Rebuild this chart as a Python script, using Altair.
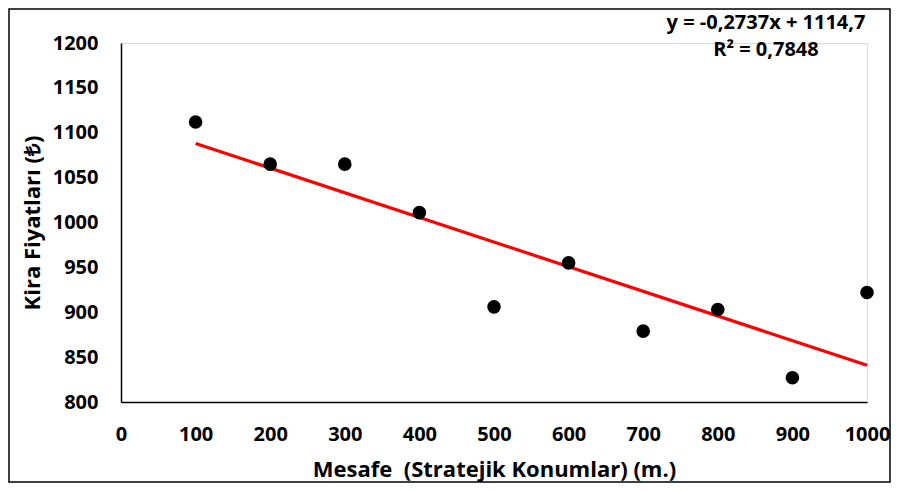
import altair as alt
import pandas as pd

# data
distance = [100, 200, 300, 400, 500, 600, 700, 800, 900, 1000]
rent = [1112, 1065, 1065, 1011, 906, 955, 879, 903, 827, 922]

x_ticks = [0, 100, 200, 300, 400, 500, 600, 700, 800, 900, 1000]
y_ticks = [800, 850, 900, 950, 1000, 1050, 1100, 1150, 1200]

eq_lines = ["y = -0,2737x + 1114,7", "R² = 0,7848"]

x_title = "Mesafe \u00a0(Stratejik Konumlar) (m.)"
y_title = "Kira Fiyatları (₺)"

df = pd.DataFrame({"x": distance, "y": rent})

FONT = "Open Sans"
W, H = 746, 359

xs = alt.Scale(domain=[0, 1000], nice=False)
ys = alt.Scale(domain=[800, 1200], nice=False)

base = alt.Chart(df)

common_axis = dict(grid=False, ticks=False, domainColor="black", domainWidth=1.5,
                   labelFont=FONT, labelFontSize=20, labelFontWeight="bold",
                   labelColor="black", titleFont=FONT, titleFontSize=22,
                   titleFontWeight="bold", titleColor="black", format="d",
                   labelFlush=False)

points = base.mark_circle(size=185, color="black", opacity=1).encode(
    x=alt.X("x:Q", scale=xs, title=x_title,
            axis=alt.Axis(values=x_ticks, labelPadding=22, titlePadding=15, **common_axis)),
    y=alt.Y("y:Q", scale=ys, title=y_title,
            axis=alt.Axis(values=y_ticks, labelPadding=23, titlePadding=8, **common_axis)),
)

trend = base.transform_regression("x", "y", method="linear").mark_line(
    color="#ff0000", strokeWidth=3.2
).encode(x=alt.X("x:Q", scale=xs), y=alt.Y("y:Q", scale=ys))

eq_df = pd.DataFrame({"t": eq_lines, "row": [0, 1]})
eq1 = alt.Chart(eq_df).transform_filter("datum.row == 0").mark_text(
    font=FONT, fontSize=20, fontWeight="bold", color="black", align="center",
    baseline="alphabetic"
).encode(text="t:N", x=alt.value(645), y=alt.value(-14))
eq2 = alt.Chart(eq_df).transform_filter("datum.row == 1").mark_text(
    font=FONT, fontSize=20, fontWeight="bold", color="black", align="center",
    baseline="alphabetic"
).encode(text="t:N", x=alt.value(645), y=alt.value(13))

border = alt.Chart(pd.DataFrame({"a": [0]})).mark_rect(
    fill="transparent", stroke="black", strokeWidth=1.5
).encode(x=alt.value(-112), x2=alt.value(769), y=alt.value(-34), y2=alt.value(439))

chart = alt.layer(border, trend, points, eq1, eq2).properties(
    width=W, height=H,
    autosize=alt.AutoSizeParams(type="none"),
    padding={"left": 113, "top": 35, "right": 24, "bottom": 81},
).configure_view(stroke=None).configure(background="white")

chart.save("out.html", embed_options={"renderer": "svg", "actions": False})
